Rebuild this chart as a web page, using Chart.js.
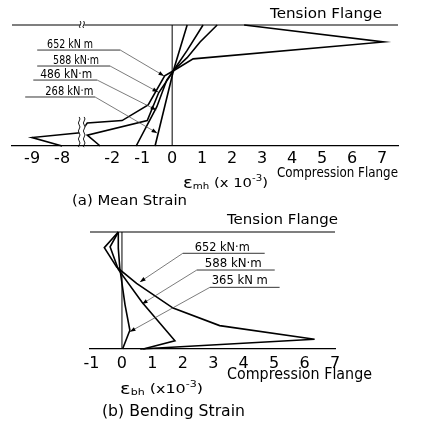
<!DOCTYPE html>
<html>
<head>
<meta charset="utf-8">
<script src="https://cdn.jsdelivr.net/npm/chart.js@4/dist/chart.umd.min.js"></script>
<style>
  body { margin: 0; background: #fff; }
  .panel { position: absolute; left: 0; }
</style>
</head>
<body>
<canvas id="meanChart" class="panel" width="430" height="210" style="top:0"></canvas>
<canvas id="bendChart" class="panel" width="430" height="213" style="top:210px"></canvas>
<script>
// ===================================
// DATA (strain x10^-3, depth: 0 = compression flange, 1 = tension flange)
// ===================================
const meanTicks = [-9, -8, -2, -1, 0, 1, 2, 3, 4, 5, 6, 7];
const bendTicks = [-1, 0, 1, 2, 3, 4, 5, 6, 7];

const mean652 = [2.4, 7.05, 0.7, 0.1, -0.25, -0.8, -1.67, -2.83, -7.4, -9.0, -8.0];
const meanDepth652 = [1.0, 0.86, 0.72, 0.63, 0.58, 0.34, 0.21, 0.19, 0.11, 0.07, 0];
const mean588 = [1.5, 0.93, 0.5, 0.07, -0.45, -0.83, -2.83, -2.4];
const meanDepth588 = [1.0, 0.86, 0.73, 0.63, 0.44, 0.21, 0.09, 0];
const mean486 = [1.03, 0.5, 0.17, -0.18, -0.51, -1.2];
const meanDepth486 = [1.0, 0.79, 0.67, 0.545, 0.325, 0];
const mean268 = [0.5, 0.05, -0.57];
const meanDepth268 = [1.0, 0.63, 0];

const bend652 = [-0.12, -0.58, -0.17, 0.48, 1.68, 3.21, 6.33, 0.6];
const bendDepth652 = [1.0, 0.866, 0.70, 0.56, 0.35, 0.20, 0.083, 0];
const bend588 = [-0.12, -0.39, -0.12, 0.66, 1.74, 0.7];
const bendDepth588 = [1.0, 0.874, 0.68, 0.40, 0.07, 0];
const bend365 = [-0.12, -0.12, -0.07, 0.1, 0.26, 0.02];
const bendDepth365 = [1.0, 0.86, 0.69, 0.38, 0.16, 0];

const meanFlange = [-9.67, 7.53];
const bendFlange = [-1.05, 7.0];

// values left of the axis break are pulled right
const BREAK_SHIFT = 4.33;
function brk(v) { return v < -5 ? v + BREAK_SHIFT : v; }

const INK = "#000";
const FONT = '"DejaVu Sans"';

function pts(xs, ys, map) {
  return xs.map((x, i) => ({ x: map ? map(x) : x, y: ys[i] }));
}
function curve(data, w) {
  return { data: data, showLine: true, borderColor: INK, borderWidth: w || 1.6, pointRadius: 0, fill: false, tension: 0, clip: false };
}

// ===================================
// OVERLAY (labels, leaders, breaks, titles)
// ===================================
function drawParts(ctx, parts, x, y, width) {
  ctx.save();
  let total = 0;
  parts.forEach((p) => { ctx.font = p[1] + "px " + FONT; total += ctx.measureText(p[0]).width; });
  ctx.translate(x, y);
  ctx.scale(width / total, 1);
  ctx.textBaseline = "middle";
  ctx.fillStyle = INK;
  let cx = 0;
  parts.forEach((p) => {
    ctx.font = p[1] + "px " + FONT;
    ctx.fillText(p[0], cx, p[2] || 0);
    cx += ctx.measureText(p[0]).width;
  });
  ctx.restore();
}

function wavy(ctx, x, y0, y1) {
  ctx.beginPath();
  ctx.moveTo(x, y0);
  const step = 4;
  let s = 1;
  for (let y = y0; y < y1; y += step) {
    ctx.quadraticCurveTo(x + 1.6 * s, y + step / 2, x, Math.min(y + step, y1));
    s = -s;
  }
  ctx.stroke();
}

function overlay(cfg) {
  return {
    id: "overlay",
    afterDraw(chart) {
      const ctx = chart.ctx;
      const xs = chart.scales.x, ys = chart.scales.y;
      const px = (v) => xs.getPixelForValue(v);
      const py = (v) => ys.getPixelForValue(v);
      ctx.save();
      // moment labels with leader arrows
      cfg.labels.forEach((l) => {
        drawParts(ctx, [[l.text, 13]], px(l.tx), py(l.ty), l.tw);
        ctx.strokeStyle = INK;
        ctx.lineWidth = 0.8;
        ctx.beginPath();
        ctx.moveTo(px(l.u0), py(l.uy));
        ctx.lineTo(px(l.u1), py(l.uy));
        ctx.stroke();
        const sx = px(l.from === "left" ? l.u0 : l.u1), sy = py(l.uy);
        const ex = px(l.ax), ey = py(l.ay);
        ctx.strokeStyle = "#444";
        ctx.lineWidth = 0.7;
        ctx.beginPath();
        ctx.moveTo(sx, sy);
        ctx.lineTo(ex, ey);
        ctx.stroke();
        const a = Math.atan2(ey - sy, ex - sx);
        ctx.fillStyle = INK;
        ctx.beginPath();
        ctx.moveTo(ex, ey);
        ctx.lineTo(ex - 6 * Math.cos(a - 0.35), ey - 6 * Math.sin(a - 0.35));
        ctx.lineTo(ex - 6 * Math.cos(a + 0.35), ey - 6 * Math.sin(a + 0.35));
        ctx.closePath();
        ctx.fill();
      });
      // axis break marks
      if (cfg.breakAt !== undefined) {
        const bx = px(cfg.breakAt);
        ctx.fillStyle = "#fff";
        ctx.fillRect(bx - 3, py(0.24), 6, py(0) - py(0.24) - 1);
        ctx.fillRect(bx - 2, py(1) - 1.5, 4, 3);
        ctx.strokeStyle = INK;
        ctx.lineWidth = 0.9;
        wavy(ctx, bx - 3, py(0.24), py(0) + 1);
        wavy(ctx, bx + 2, py(0.24), py(0) + 1);
        wavy(ctx, bx - 2, py(1) - 4, py(1) + 3);
        wavy(ctx, bx + 1.5, py(1) - 4, py(1) + 3);
      }
      // titles
      cfg.titles.forEach((t) => drawParts(ctx, t.parts, t.x, t.y, t.w));
      ctx.restore();
    }
  };
}

// ===================================
// CHARTS
// ===================================
function makeChart(id, opts) {
  new Chart(document.getElementById(id), {
    type: "scatter",
    data: { datasets: opts.datasets },
    options: {
      responsive: false,
      animation: false,
      devicePixelRatio: 1,
      layout: { padding: opts.padding },
      plugins: { legend: { display: false }, tooltip: { enabled: false } },
      scales: {
        x: {
          type: "linear",
          min: opts.min,
          max: opts.max,
          grid: { display: false, drawTicks: false },
          border: { display: true, color: INK, width: 1.2 },
          afterBuildTicks: (scale) => { scale.ticks = opts.ticks.map((t) => ({ value: opts.map(t) })); },
          afterFit: (scale) => { scale.height = 30; },
          ticks: {
            autoSkip: false,
            maxRotation: 0,
            padding: opts.tickPad,
            color: INK,
            font: { family: "DejaVu Sans", size: 16 },
            callback: (value) => {
              const i = opts.ticks.findIndex((t) => Math.abs(opts.map(t) - value) < 1e-6);
              return i < 0 ? "" : String(opts.ticks[i]);
            }
          }
        },
        y: { type: "linear", min: 0, max: 1, display: false }
      }
    },
    plugins: [overlay(opts.overlay)]
  });
}

makeChart("meanChart", {
  min: brk(meanFlange[0]),
  max: meanFlange[1],
  padding: { left: 12, right: 32, top: 25, bottom: 34 },
  tickPad: 3,
  ticks: meanTicks,
  map: brk,
  datasets: [
    curve(pts(meanFlange, [1, 1], brk), 1.2),
    curve(pts([0, 0], [0, 1]), 1),
    curve(pts(mean652, meanDepth652, brk)),
    curve(pts(mean588, meanDepth588, brk)),
    curve(pts(mean486, meanDepth486, brk)),
    curve(pts(mean268, meanDepth268, brk))
  ],
  overlay: {
    breakAt: -3.0,
    labels: [
      { text: "652 kN m", tx: -4.17, ty: 0.835, tw: 46, u0: -4.5, u1: -1.73, uy: 0.793, ax: -0.27, ay: 0.579, from: "right" },
      { text: "588 kN·m", tx: -3.97, ty: 0.702, tw: 46, u0: -4.5, u1: -2.07, uy: 0.661, ax: -0.47, ay: 0.446, from: "right" },
      { text: "486 kN·m", tx: -4.4, ty: 0.587, tw: 52, u0: -4.63, u1: -2.5, uy: 0.545, ax: -0.53, ay: 0.298, from: "right" },
      { text: "268 kN·m", tx: -4.23, ty: 0.446, tw: 48, u0: -4.9, u1: -2.57, uy: 0.405, ax: -0.5, ay: 0.107, from: "right" }
    ],
    titles: [
      { parts: [["Tension Flange", 14]], x: 270, y: 14, w: 112 },
      { parts: [["Compression Flange", 14]], x: 277, y: 173, w: 121 },
      { parts: [["ε", 16], ["mh", 9, 3], [" (x 10", 13], ["-3", 9, -5], [")", 13]], x: 183, y: 184, w: 85 },
      { parts: [["(a) Mean Strain", 14]], x: 72, y: 201, w: 115 }
    ]
  }
});

makeChart("bendChart", {
  min: bendFlange[0],
  max: bendFlange[1],
  padding: { left: 90, right: 95, top: 22, bottom: 44 },
  tickPad: 5,
  ticks: bendTicks,
  map: (v) => v,
  datasets: [
    curve(pts(bendFlange, [1, 1]), 1.2),
    curve(pts([0, 0], [0, 1]), 1),
    curve(pts(bend652, bendDepth652)),
    curve(pts(bend588, bendDepth588)),
    curve(pts(bend365, bendDepth365))
  ],
  overlay: {
    labels: [
      { text: "652 kN·m", tx: 2.39, ty: 0.866, tw: 55, u0: 2.0, u1: 4.69, uy: 0.818, ax: 0.59, ay: 0.573, from: "left" },
      { text: "588 kN·m", tx: 2.72, ty: 0.726, tw: 57, u0: 2.46, u1: 5.02, uy: 0.675, ax: 0.66, ay: 0.385, from: "left" },
      { text: "365 kN m", tx: 2.95, ty: 0.581, tw: 56, u0: 2.89, u1: 5.18, uy: 0.527, ax: 0.26, ay: 0.148, from: "left" }
    ],
    titles: [
      { parts: [["Tension Flange", 14]], x: 227, y: 10, w: 111 },
      { parts: [["Compression Flange", 15]], x: 227, y: 165, w: 145 },
      { parts: [["ε", 16], ["bh", 9, 3], [" (x10", 13], ["-3", 9, -5], [")", 13]], x: 120, y: 180, w: 83 },
      { parts: [["(b) Bending Strain", 15]], x: 102, y: 202, w: 143 }
    ]
  }
});
</script>
</body>
</html>
